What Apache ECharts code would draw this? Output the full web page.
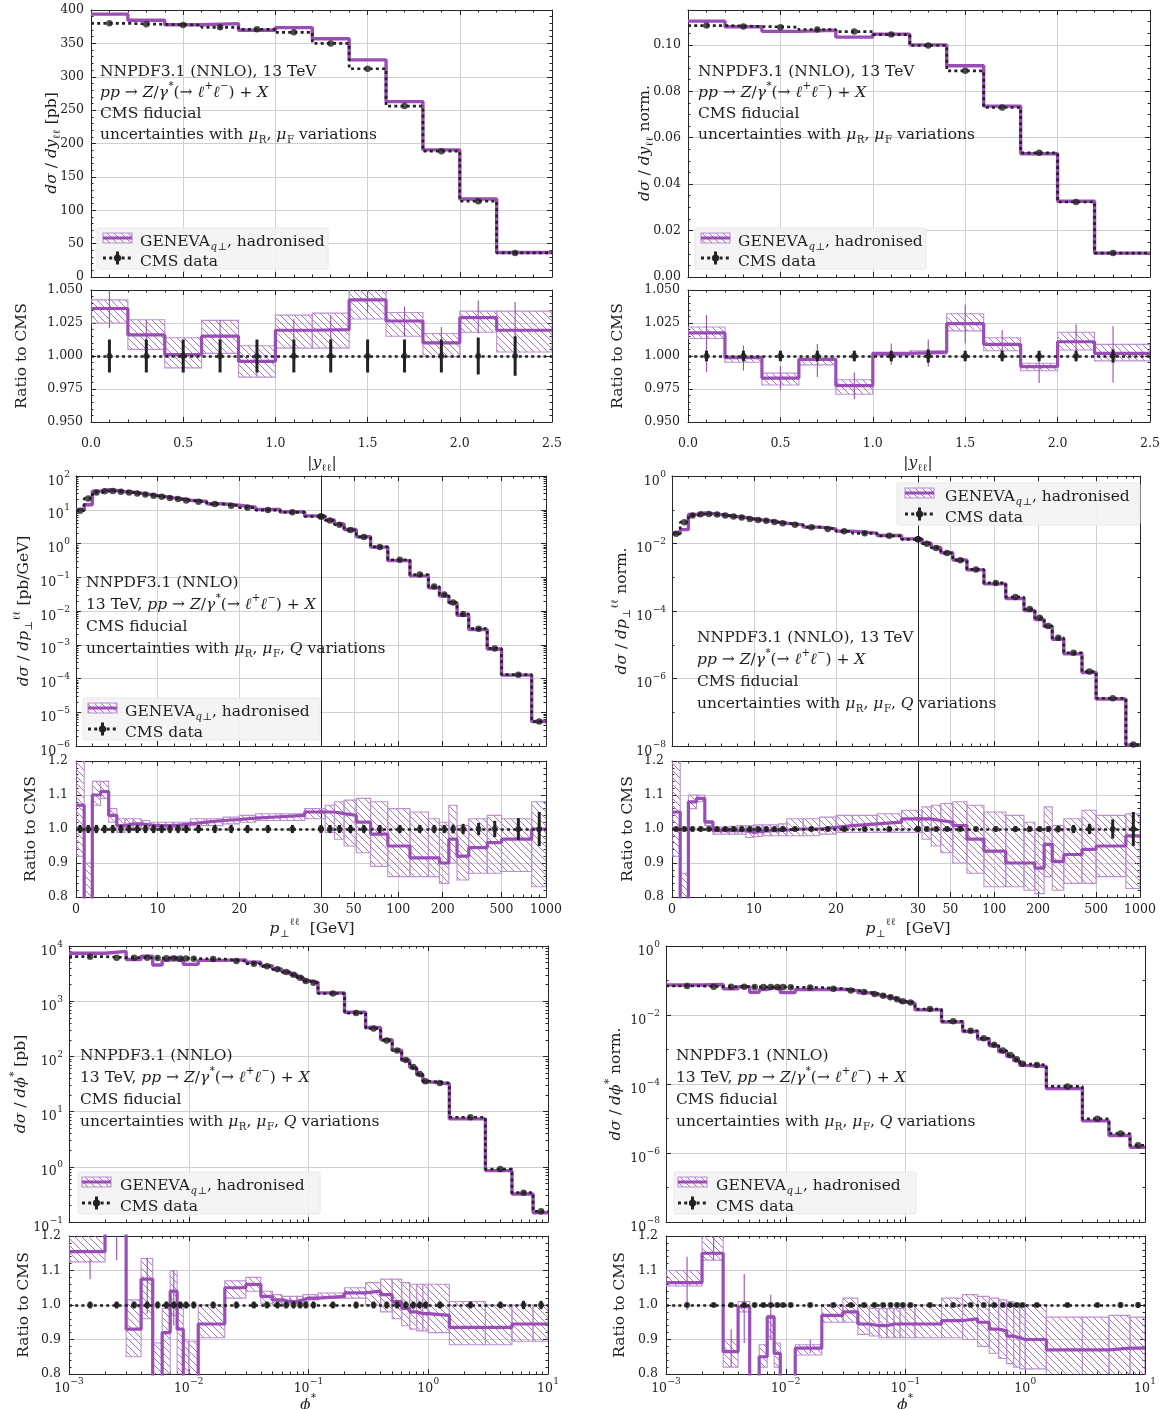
<!DOCTYPE html>
<html>
<head>
<meta charset="utf-8">
<title>GENEVA vs CMS</title>
<script src="https://cdn.jsdelivr.net/npm/echarts@6/dist/echarts.min.js"></script>
<style>
html,body{margin:0;padding:0;background:#fff;}
#chart{width:1168px;height:1409px;}
</style>
</head>
<body>
<div id="chart"></div>
<script>
// ================= DATA =================
// |y_ll| distribution
const yEdges = [0, 0.2, 0.4, 0.6, 0.8, 1.0, 1.2, 1.4, 1.6, 1.8, 2.0, 2.2, 2.5];
const yCenters = [0.1, 0.3, 0.5, 0.7, 0.9, 1.1, 1.3, 1.5, 1.7, 1.9, 2.1, 2.3];
const yAbsCMS = [380, 378.5, 377.5, 374, 371, 366.5, 350, 312, 256, 188.5, 113.5, 36];
const yAbsGeneva = [393.8, 384.6, 377.8, 379.6, 369.6, 373.6, 357, 325.3, 262.8, 190.4, 116.8, 36.7];
const yAbsRatio = [1.036, 1.016, 1.001, 1.015, 0.996, 1.0195, 1.020, 1.0425, 1.0265, 1.010, 1.029, 1.0195];
const yAbsRatioLo = [1.025, 1.005, 0.991, 1.002, 0.984, 1.006, 1.006, 1.028, 1.015, 0.9995, 1.018, 1.003];
const yAbsRatioHi = [1.0425, 1.0275, 1.0138, 1.027, 1.0078, 1.031, 1.0325, 1.053, 1.033, 1.017, 1.034, 1.034];
const yAbsMcLo = [1.021, 1.006, 0.99, 1.003, 0.985, 1.009, 1.007, 1.033, 1.015, 0.998, 1.017, 0.997];
const yAbsMcHi = [1.052, 1.027, 1.012, 1.027, 1.007, 1.028, 1.031, 1.056, 1.0375, 1.022, 1.042, 1.041];
const yAbsErr = [0.0125, 0.0125, 0.0125, 0.0125, 0.0125, 0.0125, 0.0125, 0.0125, 0.0125, 0.0125, 0.014, 0.015];

const yNormCMS = [0.1083, 0.1079, 0.1076, 0.1066, 0.1057, 0.1044, 0.0997, 0.0888, 0.0730, 0.0535, 0.0323, 0.0103];
const yNormGeneva = [0.1102, 0.1078, 0.1058, 0.1063, 0.1033, 0.1046, 0.1000, 0.0910, 0.0736, 0.0531, 0.0326, 0.0103];
const yNormRatio = [1.0175, 0.9988, 0.9833, 0.9975, 0.9775, 1.002, 1.003, 1.0245, 1.0088, 0.992, 1.0108, 1.002];
const yNormRatioLo = [1.0133, 0.9953, 0.978, 0.9933, 0.971, 1.0005, 1.0015, 1.019, 1.004, 0.9888, 1.0045, 0.9963];
const yNormRatioHi = [1.022, 1.0, 0.987, 0.9983, 0.982, 1.0025, 1.004, 1.032, 1.0138, 0.9945, 1.018, 1.0088];
const yNormMcLo = [0.988, 0.989, 0.9745, 0.984, 0.9675, 0.9933, 0.992, 1.0095, 0.997, 0.9795, 0.9958, 0.98];
const yNormMcHi = [1.031, 1.008, 0.9925, 1.009, 0.9875, 1.0095, 1.0125, 1.039, 1.0195, 0.999, 1.024, 1.0225];
const yNormErr = [0.004, 0.004, 0.004, 0.004, 0.004, 0.004, 0.005, 0.004, 0.004, 0.004, 0.004, 0.005];

// p_T distribution (GeV)
const ptEdges = [0, 1, 2, 3, 4, 5, 6, 7, 8, 9, 10, 11, 12, 13, 14, 16, 18, 20, 22, 25, 28, 32, 37, 43, 52, 65, 85, 120, 160, 190, 220, 250, 300, 400, 500, 800, 1000];
const ptAbsCMS = [9.4, 21.6, 32.4, 35.6, 35.9, 34.2, 32.4, 30.3, 28.3, 25.9, 24.2, 22.2, 20.7, 18.9, 17.3, 14.7, 13.2, 11.5, 9.8, 8.4, 6.3, 4.8, 3.6, 2.5, 1.56, 0.79, 0.33, 0.12, 0.053, 0.031, 0.018, 0.0082, 0.0030, 0.00078, 0.00013, 5.3e-6];
const ptAbsGeneva = [10.06, 14.0, 35.6, 39.5, 37.3, 34.5, 32.9, 30.8, 28.6, 26.2, 24.4, 22.4, 20.9, 19.2, 17.6, 15.1, 13.6, 11.9, 10.2, 8.7, 6.6, 5.0, 3.8, 2.6, 1.59, 0.78, 0.31, 0.11, 0.0485, 0.0279, 0.0175, 0.0075, 0.00284, 0.00075, 0.000126, 5.3e-6];
const ptAbsRatio = [1.07, 0.65, 1.10, 1.11, 1.04, 1.01, 1.015, 1.015, 1.012, 1.01, 1.01, 1.01, 1.012, 1.015, 1.02, 1.025, 1.028, 1.032, 1.036, 1.04, 1.05, 1.05, 1.045, 1.04, 1.02, 0.985, 0.95, 0.915, 0.915, 0.90, 0.97, 0.92, 0.945, 0.96, 0.97, 1.0];
const ptAbsRatioLo = [0.92, 0.55, 1.07, 1.09, 1.02, 0.99, 1.0, 1.0, 1.0, 1.0, 1.0, 1.0, 1.005, 1.005, 1.01, 1.01, 1.015, 1.02, 1.025, 1.025, 1.03, 0.99, 0.97, 0.95, 0.93, 0.89, 0.86, 0.86, 0.86, 0.84, 0.90, 0.85, 0.87, 0.87, 0.875, 0.83];
const ptAbsRatioHi = [1.25, 0.9, 1.14, 1.14, 1.06, 1.03, 1.03, 1.03, 1.025, 1.02, 1.02, 1.02, 1.02, 1.02, 1.03, 1.03, 1.035, 1.04, 1.045, 1.045, 1.06, 1.07, 1.08, 1.085, 1.09, 1.08, 1.06, 1.05, 1.03, 1.02, 1.07, 1.01, 1.03, 1.04, 1.03, 1.08];
const ptAbsErr = [0.012, 0.012, 0.012, 0.012, 0.012, 0.012, 0.012, 0.012, 0.012, 0.012, 0.012, 0.012, 0.012, 0.012, 0.012, 0.012, 0.012, 0.012, 0.012, 0.012, 0.012, 0.012, 0.012, 0.012, 0.012, 0.012, 0.012, 0.012, 0.012, 0.012, 0.013, 0.015, 0.018, 0.024, 0.032, 0.05];

const ptNormCMS = [0.0194, 0.0428, 0.067, 0.0735, 0.075, 0.072, 0.067, 0.063, 0.059, 0.0535, 0.050, 0.047, 0.043, 0.040, 0.0357, 0.0305, 0.027, 0.023, 0.020, 0.0169, 0.0133, 0.0099, 0.0074, 0.0052, 0.0032, 0.0017, 0.00068, 0.00026, 0.000114, 6.3e-5, 3.6e-5, 1.6e-5, 5.8e-6, 1.6e-6, 2.6e-7, 1.1e-8];
const ptNormGeneva = [0.0204, 0.0257, 0.0724, 0.0801, 0.0765, 0.0716, 0.0667, 0.0627, 0.0587, 0.0530, 0.0497, 0.0468, 0.0428, 0.0399, 0.0357, 0.0305, 0.0271, 0.0232, 0.0203, 0.0172, 0.0137, 0.0102, 0.00759, 0.0053, 0.00323, 0.00165, 0.000636, 0.000234, 0.000103, 5.58e-5, 3.44e-5, 1.45e-5, 5.37e-6, 1.5e-6, 2.47e-7, 1.08e-8];
const ptNormRatio = [1.05, 0.6, 1.08, 1.09, 1.02, 0.995, 0.995, 0.995, 0.995, 0.99, 0.993, 0.995, 0.995, 0.997, 1.0, 1.0, 1.005, 1.01, 1.015, 1.02, 1.03, 1.03, 1.025, 1.02, 1.01, 0.97, 0.935, 0.90, 0.90, 0.885, 0.955, 0.905, 0.925, 0.94, 0.95, 0.98];
const ptNormRatioLo = [0.92, 0.55, 1.06, 1.08, 1.01, 0.985, 0.985, 0.985, 0.985, 0.975, 0.978, 0.98, 0.98, 0.98, 0.98, 0.98, 0.985, 0.99, 0.99, 0.99, 0.99, 0.97, 0.95, 0.93, 0.9, 0.87, 0.83, 0.83, 0.82, 0.81, 0.86, 0.82, 0.84, 0.84, 0.86, 0.825];
const ptNormRatioHi = [1.25, 0.87, 1.1, 1.1, 1.025, 1.005, 1.005, 1.008, 1.01, 1.01, 1.012, 1.012, 1.012, 1.015, 1.03, 1.03, 1.035, 1.04, 1.04, 1.045, 1.055, 1.065, 1.07, 1.075, 1.08, 1.07, 1.05, 1.04, 1.02, 1.0, 1.065, 1.01, 1.03, 1.055, 1.04, 1.045];
const ptNormErr = [0.007, 0.007, 0.007, 0.007, 0.007, 0.007, 0.007, 0.007, 0.007, 0.007, 0.007, 0.007, 0.007, 0.007, 0.007, 0.007, 0.007, 0.007, 0.007, 0.007, 0.007, 0.007, 0.007, 0.007, 0.007, 0.007, 0.008, 0.008, 0.008, 0.008, 0.008, 0.01, 0.012, 0.015, 0.028, 0.05];

// phi* distribution
const phiEdges = [0.001, 0.002, 0.003, 0.004, 0.005, 0.006, 0.007, 0.008, 0.009, 0.01, 0.012, 0.02, 0.03, 0.04, 0.05, 0.06, 0.07, 0.08, 0.09, 0.1, 0.12, 0.2, 0.3, 0.4, 0.5, 0.6, 0.7, 0.8, 0.9, 1.0, 1.5, 3, 5, 7.5, 10];
const phiAbsCMS = [6410, 6140, 6140, 6100, 6050, 6000, 5950, 5950, 5950, 5900, 5800, 5340, 4780, 4280, 3780, 3370, 3020, 2670, 2320, 2150, 1380, 610, 321, 195, 128, 86, 64, 48, 35.6, 33, 7.9, 0.91, 0.34, 0.156];
const phiAbsGeneva = [7404, 7982, 5710, 6558, 4538, 5520, 6188, 5534, 4641, 4661, 5481, 5607, 5067, 4387, 3837, 3404, 3050, 2710, 2366, 2193, 1415, 631, 334, 201, 129, 85.1, 62.7, 46.8, 34.7, 32.0, 7.39, 0.851, 0.321, 0.147];
const phiAbsRatio = [1.155, 1.3, 0.93, 1.075, 0.75, 0.92, 1.04, 0.93, 0.78, 0.79, 0.945, 1.05, 1.06, 1.025, 1.015, 1.01, 1.01, 1.015, 1.02, 1.02, 1.025, 1.035, 1.04, 1.03, 1.01, 0.99, 0.98, 0.975, 0.975, 0.97, 0.935, 0.935, 0.945, 0.945];
const phiAbsRatioLo = [1.125, 1.25, 0.85, 0.96, 0.7, 0.8, 0.97, 0.8, 0.7, 0.75, 0.905, 1.02, 1.04, 1.005, 1.0, 1.0, 1.005, 1.005, 1.01, 1.015, 1.02, 1.02, 1.0, 0.98, 0.96, 0.94, 0.93, 0.925, 0.925, 0.92, 0.885, 0.885, 0.895, 0.895];
const phiAbsRatioHi = [1.22, 1.4, 1.015, 1.135, 0.89, 0.99, 1.1, 1.0, 0.9, 0.895, 1.0, 1.07, 1.08, 1.04, 1.03, 1.025, 1.025, 1.025, 1.03, 1.03, 1.035, 1.05, 1.065, 1.075, 1.075, 1.065, 1.06, 1.06, 1.06, 1.06, 1.01, 1.0, 1.0, 1.0];
const phiAbsMcLo = [1.075, 1.13, null, 0.975, null, null, 0.94, null, null, null, null, null, null, null, null, null, null, null, null, null, null, null, null, null, null, null, null, null, null, null, null, null, null, null];
const phiAbsMcHi = [1.133, 1.25, null, 1.137, null, null, 1.1, null, null, null, null, null, null, null, null, null, null, null, null, null, null, null, null, null, null, null, null, null, null, null, null, null, null, null];
const phiAbsErr = [0.01, 0.01, 0.01, 0.01, 0.01, 0.01, 0.01, 0.01, 0.01, 0.01, 0.01, 0.01, 0.01, 0.01, 0.01, 0.01, 0.01, 0.01, 0.01, 0.01, 0.01, 0.01, 0.01, 0.01, 0.01, 0.01, 0.01, 0.01, 0.01, 0.01, 0.01, 0.01, 0.012, 0.012];

const phiNormCMS = [0.0692, 0.0663, 0.0663, 0.0659, 0.0653, 0.0648, 0.0643, 0.0643, 0.0643, 0.0637, 0.0626, 0.0577, 0.0516, 0.0462, 0.0408, 0.0364, 0.0326, 0.0288, 0.0251, 0.0232, 0.0149, 0.00659, 0.00347, 0.00211, 0.00138, 0.000929, 0.000691, 0.000518, 0.000384, 0.000356, 8.53e-5, 9.8e-6, 3.67e-6, 1.68e-6];
const phiNormGeneva = [0.0737, 0.0762, 0.0573, 0.0656, 0.0457, 0.0551, 0.0620, 0.0553, 0.0450, 0.0446, 0.0548, 0.0560, 0.0506, 0.0437, 0.0384, 0.0342, 0.0308, 0.0272, 0.0237, 0.0219, 0.0141, 0.00629, 0.00333, 0.00200, 0.00128, 0.000859, 0.000629, 0.000469, 0.000346, 0.00032, 7.42e-5, 8.53e-6, 3.21e-6, 1.47e-6];
const phiNormRatio = [1.065, 1.15, 0.865, 0.995, 0.7, 0.85, 0.965, 0.86, 0.7, 0.7, 0.875, 0.97, 0.98, 0.945, 0.94, 0.94, 0.945, 0.945, 0.945, 0.945, 0.945, 0.955, 0.96, 0.95, 0.93, 0.925, 0.91, 0.905, 0.9, 0.9, 0.87, 0.87, 0.875, 0.875];
const phiNormRatioLo = [1.055, 1.13, 0.82, 0.98, 0.65, 0.82, 0.9, 0.82, 0.65, 0.65, 0.855, 0.95, 0.95, 0.915, 0.91, 0.905, 0.905, 0.905, 0.905, 0.905, 0.905, 0.905, 0.9, 0.88, 0.86, 0.845, 0.83, 0.82, 0.815, 0.815, 0.79, 0.79, 0.79, 0.79];
const phiNormRatioHi = [1.1, 1.25, 0.9, 1.01, 0.78, 0.885, 0.97, 0.89, 0.78, 0.78, 0.885, 1.0, 1.02, 0.995, 0.99, 0.99, 0.99, 0.99, 0.99, 1.0, 1.0, 1.02, 1.03, 1.025, 1.02, 1.015, 1.01, 1.005, 1.0, 1.0, 0.965, 0.965, 0.97, 0.965];
const phiNormMcLo = [0.985, 1.13, 0.82, 0.89, null, null, 0.9, null, null, null, 0.86, null, null, null, null, null, null, null, null, null, null, null, null, null, null, null, null, null, null, null, null, null, null, null];
const phiNormMcHi = [1.14, 1.25, 0.93, 1.09, null, null, 1.03, null, null, null, 0.9, null, null, null, null, null, null, null, null, null, null, null, null, null, null, null, null, null, null, null, null, null, null, null];
const phiNormErr = [0.006, 0.006, 0.006, 0.006, 0.006, 0.006, 0.006, 0.006, 0.006, 0.006, 0.006, 0.006, 0.006, 0.006, 0.006, 0.006, 0.006, 0.006, 0.006, 0.006, 0.006, 0.006, 0.006, 0.006, 0.006, 0.006, 0.006, 0.006, 0.006, 0.006, 0.006, 0.006, 0.008, 0.008];

// ================= STYLE =================
const FONT = "'DejaVu Serif', 'Liberation Serif', serif";
const TXT = '#1e1e1e';
const FRAME = '#262626';
const GRIDC = '#cfcfcf';
const PURPLE = '#9a4db6';
const PURPLE_L = '#bb8fd2';
const DARK = '#222222';
const FS = 15.5;   // text size
const TFS = 12.5;  // tick label size
const PHI = '\u03D5';

const HATCH = (function () {
  const c = document.createElement('canvas');
  c.width = 7; c.height = 7;
  const g = c.getContext('2d');
  g.strokeStyle = '#a464c0';
  g.lineWidth = 0.9;
  [-7, 0, 7].forEach(k => { g.beginPath(); g.moveTo(k, 0); g.lineTo(k + 7, 7); g.stroke(); });
  return c;
})();
const HATCH_FILL = {image: HATCH, repeat: 'repeat'};

function richSet(fs) {
  const s = Math.round(fs * 0.66 * 10) / 10;
  return {
    n: {fontFamily: FONT, fontSize: fs, color: TXT, lineHeight: fs, padding: [4, 0, 0, 0], verticalAlign: 'top'},
    i: {fontFamily: FONT, fontStyle: 'italic', fontSize: fs, color: TXT, lineHeight: fs, padding: [4, 0, 0, 0], verticalAlign: 'top'},
    sub: {fontFamily: FONT, fontSize: s, color: TXT, lineHeight: s, padding: [fs * 0.75, 0, 0, 0.5], verticalAlign: 'top'},
    subi: {fontFamily: FONT, fontStyle: 'italic', fontSize: s, color: TXT, lineHeight: s, padding: [fs * 0.75, 0, 0, 0.5], verticalAlign: 'top'},
    sup: {fontFamily: FONT, fontSize: s, color: TXT, lineHeight: s, padding: [0, 0, 0, 0.5], verticalAlign: 'top'}
  };
}
const RICH = richSet(FS);
const EXP_RICH = {
  b: {fontFamily: FONT, fontSize: TFS, color: TXT, lineHeight: TFS, padding: [5, 0, 0, 0], verticalAlign: 'top'},
  e: {fontFamily: FONT, fontSize: 9, color: TXT, lineHeight: 9, padding: [0, 0, 0, 0.5], verticalAlign: 'top'}
};
const expFmt = v => { const e = Math.round(Math.log10(v)); return '{b|10}{e|' + (e < 0 ? '\u2212' + (-e) : String(e)) + '}'; };

// tick position helpers (axis decoration only)
function linTicks(a, b, s) { const n = Math.round((b - a) / s); const r = []; for (let k = 0; k <= n; k++) r.push(+(a + k * s).toFixed(6)); return r; }
function linMinor(a, b, s, div) { return linTicks(a, b, s / div).filter((v, k) => k % div !== 0); }
function logMajor(e0, e1, st) { const r = []; for (let e = e0; e <= e1; e += st) r.push(+Math.pow(10, e).toPrecision(6)); return r; }
function logMinor(e0, e1) { const r = []; for (let e = e0; e < e1; e++) for (let m = 2; m <= 9; m++) r.push(+(m * Math.pow(10, e)).toPrecision(6)); return r; }
const mids = e => e.slice(0, -1).map((a, i) => (a + e[i + 1]) / 2);

// ================= OPTION =================
const option = {animation: false, backgroundColor: '#ffffff', textStyle: {fontFamily: FONT}, grid: [], xAxis: [], yAxis: [], series: [], graphic: []};

function addGrid(l, t, w, h) {
  option.grid.push({left: l, top: t, width: w, height: h, containLabel: false, outerBoundsMode: 'none', show: false});
  return option.grid.length - 1;
}

function axisSet(dim, gi, s) {
  const arr = dim === 'x' ? option.xAxis : option.yAxis;
  const posA = dim === 'x' ? 'bottom' : 'left', posB = dim === 'x' ? 'top' : 'right';
  const base = {gridIndex: gi, type: s.type, min: s.min, max: s.max, silent: true};
  if (s.type === 'log') base.logBase = 10; else base.interval = s.interval;
  const ls = {color: FRAME, width: 1};
  const mk = (pos, o) => Object.assign({}, base, {
    position: pos,
    axisLine: {show: o.line, onZero: false, lineStyle: ls},
    axisTick: {show: o.ticks, inside: true, length: o.len || 5, lineStyle: ls, customValues: o.vals},
    minorTick: {show: false},
    splitLine: {show: !!o.split, lineStyle: {color: GRIDC, width: 1}},
    axisLabel: o.labels ? Object.assign({show: true, customValues: s.labels, formatter: s.fmt, fontFamily: FONT, fontSize: TFS, color: TXT, margin: s.margin || 7, hideOverlap: false}, s.rich ? {rich: s.rich} : {}) : {show: false}
  });
  const idx = arr.length;
  arr.push(mk(posA, {line: s.lineA !== false, ticks: s.ticksA !== false, vals: s.major, split: s.split !== false, labels: !!s.labels}));
  arr.push(mk(posB, {line: s.lineB !== false, ticks: s.ticksB !== false, vals: s.major}));
  if (s.minor && s.minor.length) {
    if (s.ticksA !== false) arr.push(mk(posA, {line: false, ticks: true, vals: s.minor, len: 2.5}));
    if (s.ticksB !== false) arr.push(mk(posB, {line: false, ticks: true, vals: s.minor, len: 2.5}));
  }
  return idx;
}

function stepPts(edges, vals, i0, i1) {
  const d = [];
  for (let i = i0; i < i1; i++) d.push([edges[i], vals[i]]);
  d.push([edges[i1], vals[i1 - 1]]);
  return d;
}
function vlineRender(color, width) {
  return function (params, api) {
    const a = api.coord([api.value(0), api.value(1)]);
    const b = api.coord([api.value(0), api.value(2)]);
    return {type: 'line', shape: {x1: a[0], y1: a[1], x2: b[0], y2: b[1]}, style: {stroke: color, lineWidth: width}};
  };
}
function bandRender(params, api) {
  const a = api.coord([api.value(0), api.value(2)]);
  const b = api.coord([api.value(1), api.value(3)]);
  return {type: 'rect', shape: {x: a[0], y: b[1], width: b[0] - a[0], height: a[1] - b[1]},
          style: {fill: HATCH_FILL, stroke: PURPLE_L, lineWidth: 1.1}};
}

function addMain(H, xi, yi, i0, i1) {
  option.series.push({type: 'line', xAxisIndex: xi, yAxisIndex: yi, step: 'end', silent: true, symbol: 'none', z: 3,
    data: stepPts(H.edges, H.gen, i0, i1), lineStyle: {color: PURPLE, width: 3.4}});
  option.series.push({type: 'line', xAxisIndex: xi, yAxisIndex: yi, step: 'end', silent: true, symbol: 'none', z: 4,
    data: stepPts(H.edges, H.cms, i0, i1), lineStyle: {color: DARK, width: 2.7, type: [3, 3.2], cap: 'butt'}});
  const pts = [];
  for (let i = i0; i < i1; i++) pts.push([H.centers[i], H.cms[i]]);
  option.series.push({type: 'scatter', xAxisIndex: xi, yAxisIndex: yi, silent: true, z: 5, symbol: 'circle', symbolSize: 6.5,
    itemStyle: {color: DARK}, data: pts});
}

function addRatio(H, xi, yi, i0, i1) {
  const band = [];
  for (let i = i0; i < i1; i++) band.push([H.edges[i], H.edges[i + 1], H.rlo[i], H.rhi[i]]);
  option.series.push({type: 'custom', xAxisIndex: xi, yAxisIndex: yi, clip: true, silent: true, z: 2,
    encode: {x: [0, 1], y: [2, 3]}, data: band, renderItem: bandRender});
  option.series.push({type: 'line', xAxisIndex: xi, yAxisIndex: yi, step: 'end', silent: true, symbol: 'none', z: 3,
    data: stepPts(H.edges, H.rc, i0, i1), lineStyle: {color: PURPLE, width: 3.2}});
  if (H.mclo) {
    const mc = [];
    for (let i = i0; i < i1; i++) if (H.mclo[i] != null) mc.push([H.centers[i], H.mclo[i], H.mchi[i]]);
    option.series.push({type: 'custom', xAxisIndex: xi, yAxisIndex: yi, clip: true, silent: true, z: 3,
      encode: {x: 0, y: [1, 2]}, data: mc, renderItem: vlineRender(PURPLE, 1.1)});
  }
  const eb = [], pts = [];
  for (let i = i0; i < i1; i++) { eb.push([H.centers[i], 1 - H.err[i], 1 + H.err[i]]); pts.push([H.centers[i], 1]); }
  option.series.push({type: 'custom', xAxisIndex: xi, yAxisIndex: yi, clip: true, silent: true, z: 5,
    encode: {x: 0, y: [1, 2]}, data: eb, renderItem: vlineRender(DARK, 3)});
  option.series.push({type: 'scatter', xAxisIndex: xi, yAxisIndex: yi, silent: true, z: 6, symbol: 'circle', symbolSize: 6,
    itemStyle: {color: DARK}, data: pts,
    markLine: {silent: true, symbol: ['none', 'none'], label: {show: false}, animation: false,
      lineStyle: {color: DARK, width: 2.7, type: [3, 3.2]}, data: [{yAxis: 1}]}});
}

// ----- graphic helpers -----
function txt(x, y, text, extra) {
  option.graphic.push(Object.assign({type: 'text', x: x, y: y, z: 30, silent: true,
    style: {text: text, rich: RICH, align: 'left', verticalAlign: 'middle', fill: TXT, fontFamily: FONT, fontSize: FS}}, extra || {}));
}
function vtitle(x, y, text) {
  option.graphic.push({type: 'text', x: x, y: y, rotation: Math.PI / 2, z: 30, silent: true,
    style: {text: text, rich: RICH, align: 'center', verticalAlign: 'middle', fill: TXT, fontFamily: FONT, fontSize: FS}});
}
function htitle(x, y, text) {
  option.graphic.push({type: 'text', x: x, y: y, z: 30, silent: true,
    style: {text: text, rich: RICH, align: 'center', verticalAlign: 'middle', fill: TXT, fontFamily: FONT, fontSize: FS}});
}
function legendBox(bx, by, bw, bh, ix, tx, y1, y2) {
  option.graphic.push({type: 'rect', z: 40, silent: true, shape: {x: bx, y: by, width: bw, height: bh, r: 2},
    style: {fill: 'rgba(243,243,243,0.92)', stroke: 'rgba(232,232,232,1)', lineWidth: 1}});
  option.graphic.push({type: 'rect', z: 41, silent: true, shape: {x: ix, y: y1 - 5, width: 29, height: 10},
    style: {fill: HATCH_FILL, stroke: PURPLE_L, lineWidth: 1.1}});
  option.graphic.push({type: 'line', z: 42, silent: true, shape: {x1: ix, y1: y1, x2: ix + 29, y2: y1},
    style: {stroke: PURPLE, lineWidth: 3}});
  option.graphic.push({type: 'line', z: 41, silent: true, shape: {x1: ix, y1: y2, x2: ix + 29, y2: y2},
    style: {stroke: DARK, lineWidth: 3, lineDash: [3, 3.2]}});
  option.graphic.push({type: 'line', z: 42, silent: true, shape: {x1: ix + 14.5, y1: y2 - 6.5, x2: ix + 14.5, y2: y2 + 6.5},
    style: {stroke: DARK, lineWidth: 3}});
  option.graphic.push({type: 'circle', z: 43, silent: true, shape: {cx: ix + 14.5, cy: y2, r: 3.6}, style: {fill: DARK}});
  txt(tx, y1, '{n|GENEVA}{subi|q}{sub|\u22A5}{n|, hadronised}', {z: 44});
  txt(tx, y2, '{n|CMS data}', {z: 44});
}

// ----- texts -----
const T_NNPDF_13 = '{n|NNPDF3.1 (NNLO), 13 TeV}';
const T_NNPDF = '{n|NNPDF3.1 (NNLO)}';
const T_PROC = '{i|pp}{n| \u2192 }{i|Z}{n|/}{i|\u03B3}{sup|*}{n|(\u2192 }{i|\u2113}{sup|+}{i|\u2113}{sup|\u2212}{n|) + }{i|X}';
const T_PROC13 = '{n|13 TeV, }' + T_PROC;
const T_FID = '{n|CMS fiducial}';
const T_UNC2 = '{n|uncertainties with }{i|\u03BC}{sub|R}{n|, }{i|\u03BC}{sub|F}{n| variations}';
const T_UNC3 = '{n|uncertainties with }{i|\u03BC}{sub|R}{n|, }{i|\u03BC}{sub|F}{n|, }{i|Q}{n| variations}';
const T_RATIO = '{n|Ratio to CMS}';

// ================= PANELS =================
const H_yAbs = {edges: yEdges, centers: yCenters, cms: yAbsCMS, gen: yAbsGeneva, rc: yAbsRatio, rlo: yAbsRatioLo, rhi: yAbsRatioHi, err: yAbsErr, mclo: yAbsMcLo, mchi: yAbsMcHi};
const H_yNorm = {edges: yEdges, centers: yCenters, cms: yNormCMS, gen: yNormGeneva, rc: yNormRatio, rlo: yNormRatioLo, rhi: yNormRatioHi, err: yNormErr, mclo: yNormMcLo, mchi: yNormMcHi};
const ptCenters = mids(ptEdges);
const H_ptAbs = {edges: ptEdges, centers: ptCenters, cms: ptAbsCMS, gen: ptAbsGeneva, rc: ptAbsRatio, rlo: ptAbsRatioLo, rhi: ptAbsRatioHi, err: ptAbsErr};
const H_ptNorm = {edges: ptEdges, centers: ptCenters, cms: ptNormCMS, gen: ptNormGeneva, rc: ptNormRatio, rlo: ptNormRatioLo, rhi: ptNormRatioHi, err: ptNormErr};
const phiCenters = mids(phiEdges);
const H_phiAbs = {edges: phiEdges, centers: phiCenters, cms: phiAbsCMS, gen: phiAbsGeneva, rc: phiAbsRatio, rlo: phiAbsRatioLo, rhi: phiAbsRatioHi, err: phiAbsErr, mclo: phiAbsMcLo, mchi: phiAbsMcHi};
const H_phiNorm = {edges: phiEdges, centers: phiCenters, cms: phiNormCMS, gen: phiNormGeneva, rc: phiNormRatio, rlo: phiNormRatioLo, rhi: phiNormRatioHi, err: phiNormErr, mclo: phiNormMcLo, mchi: phiNormMcHi};

// ---- rapidity panels ----
function rapidityPanel(L, W, H, mainY, xTitleX, yTitleMainX, yTitleRatioX, yTitle, annX, legX) {
  const gm = addGrid(L, 10, W, 267), gr = addGrid(L, 290, W, 132);
  const xs = {type: 'value', min: 0, max: 2.5, interval: 0.5, major: linTicks(0, 2.5, 0.5), minor: linMinor(0, 2.5, 0.5, 5)};
  const xm = axisSet('x', gm, xs);
  const ym = axisSet('y', gm, mainY);
  const xr = axisSet('x', gr, Object.assign({}, xs, {labels: linTicks(0, 2.5, 0.5), fmt: v => v.toFixed(1), margin: 15}));
  const yr = axisSet('y', gr, {type: 'value', min: 0.95, max: 1.05, interval: 0.025, major: linTicks(0.95, 1.05, 0.025),
    minor: linMinor(0.95, 1.05, 0.025, 5), labels: linTicks(0.95, 1.05, 0.025), fmt: v => v.toFixed(3), margin: 8});
  const n = H.cms.length;
  addMain(H, xm, ym, 0, n);
  addRatio(H, xr, yr, 0, n);
  vtitle(yTitleMainX, 143, yTitle);
  vtitle(yTitleRatioX, 356, T_RATIO);
  htitle(xTitleX, 459, '{n||}{i|y}{sub|\u2113\u2113}{n||}');
  txt(annX, 68, T_NNPDF_13); txt(annX, 89, T_PROC); txt(annX, 110, T_FID); txt(annX, 131, T_UNC2);
  legendBox(legX, 228, 231, 41, legX + 6, legX + 43, 238, 258);
}
rapidityPanel(91, 461, H_yAbs,
  {type: 'value', min: 0, max: 400, interval: 50, major: linTicks(0, 400, 50), minor: linMinor(0, 400, 50, 5),
   labels: linTicks(0, 400, 50), fmt: v => String(Math.round(v))},
  322, 48, 18, '{i|d\u03C3}{n| / }{i|dy}{sub|\u2113\u2113}{n| [pb]}', 100, 97);
rapidityPanel(688, 462, H_yNorm,
  {type: 'value', min: 0, max: 0.115, interval: 0.02, major: linTicks(0, 0.1, 0.02), minor: linMinor(0, 0.12, 0.02, 4),
   labels: linTicks(0, 0.1, 0.02), fmt: v => v.toFixed(2)},
  918, 641, 614, '{i|d\u03C3}{n| / }{i|dy}{sub|\u2113\u2113}{n| norm.}', 698, 695);

// ---- pT panels (linear 0-30 GeV, logarithmic 30-1000 GeV) ----
function ptPanel(L, Wl, Wg, H, mainY, yTitle, yTitleMainX, yTitleRatioX, xTitleX) {
  const gmL = addGrid(L, 476, Wl, 270), gmG = addGrid(L + Wl, 476, Wg, 270);
  const grL = addGrid(L, 761, Wl, 136), grG = addGrid(L + Wl, 761, Wg, 136);
  const xl = {type: 'value', min: 0, max: 30, interval: 10, major: [0, 10, 20, 30], minor: linMinor(0, 30, 10, 5)};
  const xg = {type: 'log', min: 30, max: 1000, major: [30, 50, 100, 200, 500, 1000], minor: [40, 60, 70, 80, 90, 300, 400, 600, 700, 800, 900]};
  const xmL = axisSet('x', gmL, xl), xmG = axisSet('x', gmG, xg);
  const ymL = axisSet('y', gmL, Object.assign({}, mainY, {ticksB: false}));
  const ymG = axisSet('y', gmG, Object.assign({}, mainY, {ticksA: false, labels: null}));
  const xrL = axisSet('x', grL, Object.assign({}, xl, {labels: [0, 10, 20, 30], fmt: v => String(Math.round(v)), margin: 6}));
  const xrG = axisSet('x', grG, Object.assign({}, xg, {labels: [50, 100, 200, 500, 1000], fmt: v => String(Math.round(v)), margin: 6}));
  const ry = {type: 'value', min: 0.8, max: 1.2, interval: 0.1, major: linTicks(0.8, 1.2, 0.1), minor: linMinor(0.8, 1.2, 0.1, 5)};
  const yrL = axisSet('y', grL, Object.assign({}, ry, {ticksB: false, labels: linTicks(0.8, 1.2, 0.1), fmt: v => v.toFixed(1), margin: 8}));
  const yrG = axisSet('y', grG, Object.assign({}, ry, {ticksA: false}));
  const n = H.cms.length;
  let iEnd = 0; while (H.edges[iEnd] < 30) iEnd++;            // first edge >= 30 -> bins [0, iEnd)
  let iBeg = 0; while (H.edges[iBeg + 1] <= 30) iBeg++;        // first bin reaching beyond 30
  addMain(H, xmL, ymL, 0, iEnd); addMain(H, xmG, ymG, iBeg, n);
  addRatio(H, xrL, yrL, 0, iEnd); addRatio(H, xrG, yrG, iBeg, n);
  vtitle(yTitleMainX, 611, yTitle);
  vtitle(yTitleRatioX, 829, T_RATIO);
  htitle(xTitleX, 925, '{i|p}{sub|\u22A5}{sup|\u2113\u2113}{n|  [GeV]}');
}
ptPanel(76, 245, 225, H_ptAbs,
  {type: 'log', min: 1e-6, max: 100, major: logMajor(-6, 2, 1), minor: logMinor(-6, 2), labels: logMajor(-6, 2, 1), fmt: expFmt, rich: EXP_RICH, margin: 6},
  '{i|d\u03C3}{n| / }{i|dp}{sub|\u22A5}{sup|\u2113\u2113}{n| [pb/GeV]}', 20, 27, 312);
ptPanel(672, 246, 222, H_ptNorm,
  {type: 'log', min: 1e-8, max: 1, major: logMajor(-8, 0, 2), minor: [1e-7, 1e-5, 1e-3, 1e-1], labels: logMajor(-8, 0, 2), fmt: expFmt, rich: EXP_RICH, margin: 6},
  '{i|d\u03C3}{n| / }{i|dp}{sub|\u22A5}{sup|\u2113\u2113}{n| norm.}', 618, 624, 908);
// annotations + legends for pT panels
txt(86, 579, T_NNPDF); txt(86, 601, T_PROC13); txt(86, 623, T_FID); txt(86, 645, T_UNC3);
legendBox(83, 698, 237, 42, 88, 125, 708, 729);
txt(697, 634, T_NNPDF_13); txt(697, 656, T_PROC); txt(697, 678, T_FID); txt(697, 700, T_UNC3);
legendBox(897, 483, 243, 42, 905, 945, 493, 514);

// ---- phi* panels ----
function phiPanel(L, H, mainY, yTitle, yTitleMainX, yTitleRatioX, xTitleX, annX, legX) {
  const gm = addGrid(L, 946, 479, 276), gr = addGrid(L, 1236, 479, 138);
  const xs = {type: 'log', min: 0.001, max: 10, major: logMajor(-3, 1, 1), minor: logMinor(-3, 1)};
  const xm = axisSet('x', gm, xs);
  const ym = axisSet('y', gm, mainY);
  const xr = axisSet('x', gr, Object.assign({}, xs, {labels: logMajor(-3, 1, 1), fmt: expFmt, rich: EXP_RICH, margin: 3}));
  const yr = axisSet('y', gr, {type: 'value', min: 0.8, max: 1.2, interval: 0.1, major: linTicks(0.8, 1.2, 0.1),
    minor: linMinor(0.8, 1.2, 0.1, 5), labels: linTicks(0.8, 1.2, 0.1), fmt: v => v.toFixed(1), margin: 8});
  const n = H.cms.length;
  addMain(H, xm, ym, 0, n);
  addRatio(H, xr, yr, 0, n);
  vtitle(yTitleMainX, 1084, yTitle);
  vtitle(yTitleRatioX, 1305, T_RATIO);
  htitle(xTitleX, 1401, '{i|' + PHI + '}{sup|*}');
  txt(annX, 1052, T_NNPDF); txt(annX, 1074, T_PROC13); txt(annX, 1096, T_FID); txt(annX, 1118, T_UNC3);
  legendBox(legX, 1172, 242, 42, legX + 4, legX + 42, 1182, 1203);
}
phiPanel(69, H_phiAbs,
  {type: 'log', min: 0.1, max: 10000, major: logMajor(-1, 4, 1), minor: logMinor(-1, 4), labels: logMajor(-1, 4, 1), fmt: expFmt, rich: EXP_RICH, margin: 6},
  '{i|d\u03C3}{n| / }{i|d' + PHI + '}{sup|*}{n| [pb]}', 17, 20, 308, 80, 78);
phiPanel(666, H_phiNorm,
  {type: 'log', min: 1e-8, max: 1, major: logMajor(-8, 0, 2), minor: [1e-7, 1e-5, 1e-3, 1e-1], labels: logMajor(-8, 0, 2), fmt: expFmt, rich: EXP_RICH, margin: 6},
  '{i|d\u03C3}{n| / }{i|d' + PHI + '}{sup|*}{n| norm.}', 612, 616, 905, 676, 674);

const chart = echarts.init(document.getElementById('chart'), null, {renderer: 'canvas', width: 1168, height: 1409});
chart.setOption(option);
</script>
</body>
</html>
